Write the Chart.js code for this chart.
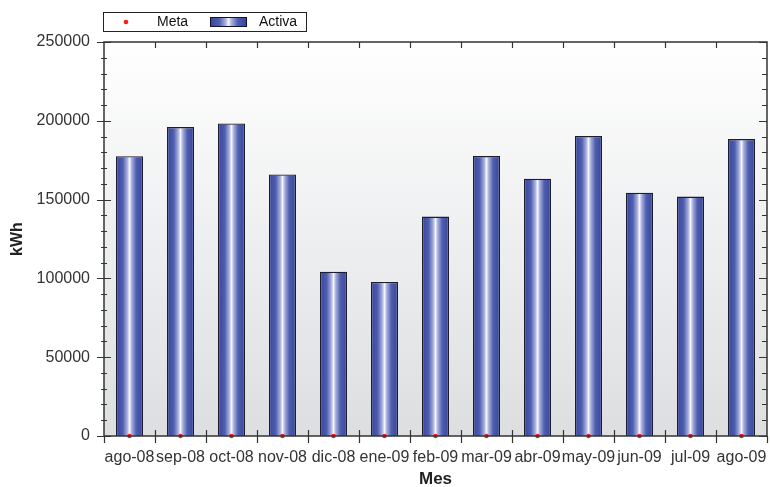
<!DOCTYPE html>
<html>
<head>
<meta charset="utf-8">
<script src="https://cdn.jsdelivr.net/npm/chart.js@4/dist/chart.umd.min.js"></script>
<style>
  html, body { margin: 0; padding: 0; background: #ffffff; }
  #wrap { width: 770px; height: 487px; }
</style>
</head>
<body>
<div id="wrap"><canvas id="c" width="770" height="487"></canvas></div>
<script>
// Monthly active energy (kWh) with the target ("Meta") series
const months = ['ago-08', 'sep-08', 'oct-08', 'nov-08', 'dic-08', 'ene-09', 'feb-09',
                'mar-09', 'abr-09', 'may-09', 'jun-09', 'jul-09', 'ago-09'];
const activa = [177500, 196000, 198300, 165900, 104200, 97700, 139200,
                177600, 163300, 190300, 154400, 151900, 188400];
const meta = [0, 0, 0, 0, 0, 0, 0, 0, 0, 0, 0, 0, 0];
const yTicks = [0, 50000, 100000, 150000, 200000, 250000];

const FONT = "'Liberation Sans', Arial, sans-serif";
const BAR_PCT = 0.53;

function barGradient(ctx, x0, x1) {
  const g = ctx.createLinearGradient(x0, 0, x1, 0);
  g.addColorStop(0, '#34459a');
  g.addColorStop(0.25, '#4f5eae');
  g.addColorStop(0.42, '#aab1de');
  g.addColorStop(0.5, '#f6f6ff');
  g.addColorStop(0.58, '#aab1de');
  g.addColorStop(0.75, '#4f5eae');
  g.addColorStop(1, '#34459a');
  return g;
}

// Plot background, frame, tick marks and legend box
const decor = {
  id: 'decor',
  beforeDatasetsDraw(chart) {
    const { ctx, chartArea: a } = chart;
    ctx.save();
    const g = ctx.createLinearGradient(0, a.top, 0, a.bottom);
    g.addColorStop(0, '#ffffff');
    g.addColorStop(1, '#dcdee0');
    ctx.fillStyle = g;
    ctx.fillRect(a.left, a.top, a.right - a.left, a.bottom - a.top);
    ctx.restore();
  },
  afterDatasetsDraw(chart) {
    const { ctx, chartArea: a, scales } = chart;
    const ys = scales.y, xs = scales.x;
    ctx.save();
    ctx.strokeStyle = '#333333';
    ctx.lineWidth = 1.5;
    ctx.strokeRect(a.left, a.top, a.right - a.left, a.bottom - a.top);

    ctx.lineWidth = 1.2;
    ctx.beginPath();
    // value-axis ticks: major every 50000, minor every 10000
    for (let v = 0; v <= 250000; v += 10000) {
      const y = Math.round(ys.getPixelForValue(v)) + 0.5;
      const major = v % 50000 === 0;
      ctx.moveTo(a.left - (major ? 7 : 3), y);
      ctx.lineTo(a.left + (major ? 7 : 3), y);
      ctx.moveTo(a.right - (major ? 8 : 5), y);
      ctx.lineTo(a.right, y);
    }
    // category boundaries
    const n = months.length;
    for (let i = 0; i <= n; i++) {
      const x = Math.round(xs.getPixelForValue(i - 0.5)) + 0.5;
      ctx.moveTo(x, a.bottom - (i === 0 || i === n ? 0 : 6));
      ctx.lineTo(x, a.bottom + 7);
      if (i > 0 && i < n) {
        ctx.moveTo(x, a.top);
        ctx.lineTo(x, a.top + 6);
      }
    }
    ctx.stroke();
    ctx.restore();
  },
  afterDraw(chart) {
    const { ctx } = chart;
    const ds = chart.data.datasets;
    ctx.save();
    ctx.fillStyle = '#ffffff';
    ctx.fillRect(103.5, 12.5, 203, 19);
    ctx.strokeStyle = '#222222';
    ctx.lineWidth = 1;
    ctx.strokeRect(103.5, 12.5, 203, 19);

    ctx.fillStyle = '#ff1a1a';
    ctx.beginPath();
    ctx.arc(126, 22, 2.3, 0, Math.PI * 2);
    ctx.fill();

    ctx.fillStyle = barGradient(ctx, 210, 247);
    ctx.fillRect(210, 17, 37, 10);
    ctx.strokeStyle = '#111133';
    ctx.strokeRect(210.5, 17.5, 36, 9);

    ctx.fillStyle = '#111111';
    ctx.font = '14px ' + FONT;
    ctx.textBaseline = 'middle';
    ctx.textAlign = 'left';
    ctx.fillText(ds[0].label, 157, 22.5);
    ctx.fillText(ds[1].label, 259, 22.5);
    ctx.restore();
  }
};

new Chart(document.getElementById('c'), {
  data: {
    labels: months,
    datasets: [
      {
        type: 'line',
        label: 'Meta',
        data: meta,
        showLine: false,
        pointRadius: 2.3,
        pointHoverRadius: 2.3,
        pointBackgroundColor: '#ff1a1a',
        pointBorderWidth: 0,
        clip: false,
        order: 0
      },
      {
        type: 'bar',
        label: 'Activa',
        data: activa,
        backgroundColor(c) {
          const chart = c.chart;
          const xs = chart.scales.x;
          if (!chart.chartArea || !xs) return '#4a5aa8';
          const cx = xs.getPixelForValue(c.dataIndex);
          const half = (xs.width / months.length) * BAR_PCT / 2;
          return barGradient(chart.ctx, cx - half, cx + half);
        },
        borderColor: '#1c1c2c',
        borderWidth: 1.3,
        borderSkipped: 'bottom',
        categoryPercentage: 1,
        barPercentage: BAR_PCT,
        order: 1
      }
    ]
  },
  options: {
    responsive: false,
    animation: false,
    events: [],
    layout: { padding: { left: 0, right: 3, top: 42, bottom: 0 } },
    plugins: {
      legend: { display: false },
      tooltip: { enabled: false }
    },
    scales: {
      x: {
        type: 'category',
        offset: true,
        grid: { display: false, drawTicks: false },
        border: { display: false },
        ticks: {
          autoSkip: false,
          maxRotation: 0,
          minRotation: 0,
          padding: 12,
          color: '#333333',
          font: { family: FONT, size: 16 }
        },
        title: {
          display: true,
          text: 'Mes',
          color: '#222222',
          font: { family: FONT, size: 17, weight: 'bold', lineHeight: 1 },
          padding: { top: 0, bottom: -1 }
        },
        afterFit(s) {
          s.height = 51;
          s.paddingLeft = 0;
          s.paddingRight = 0;
        }
      },
      y: {
        type: 'linear',
        min: 0,
        max: 250000,
        afterBuildTicks(s) { s.ticks = yTicks.map(v => ({ value: v })); },
        grid: { display: false, drawTicks: false },
        border: { display: false },
        ticks: {
          padding: 14,
          color: '#333333',
          font: { family: FONT, size: 16 },
          callback: v => String(v)
        },
        title: {
          display: true,
          text: 'kWh',
          color: '#222222',
          font: { family: FONT, size: 16, weight: 'bold' },
          padding: { top: 8, bottom: 0 }
        },
        afterFit(s) {
          s.width = 104;
          s.paddingTop = 0;
          s.paddingBottom = 0;
        }
      }
    }
  },
  plugins: [decor]
});
</script>
</body>
</html>
